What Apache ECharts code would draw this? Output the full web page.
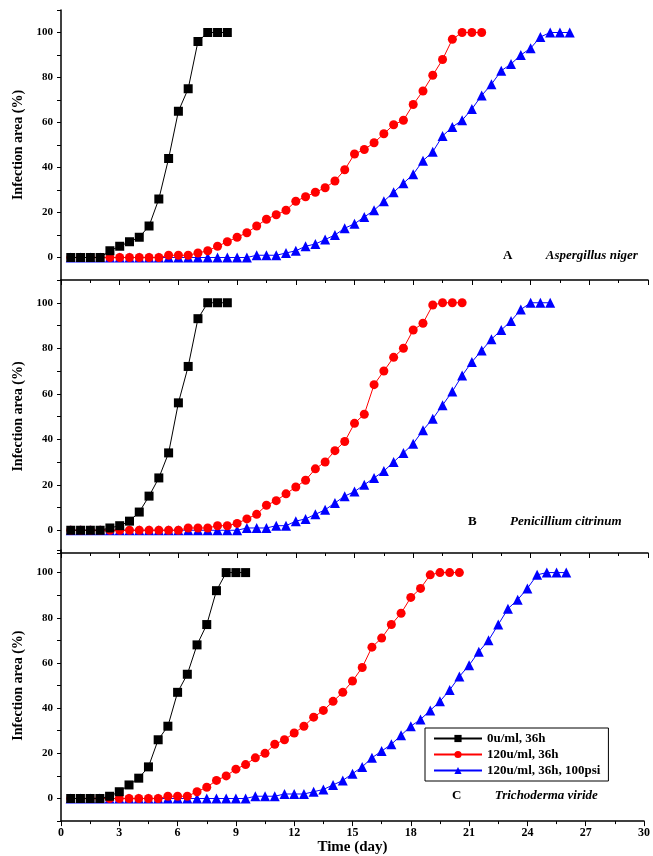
<!DOCTYPE html>
<html>
<head>
<meta charset="utf-8">
<script src="https://cdn.jsdelivr.net/npm/echarts@6/dist/echarts.min.js"></script>
<style>html,body{margin:0;padding:0;background:#fff}#chart{width:653px;height:856px}</style>
</head>
<body>
<div id="chart"></div>
<script>
// values per half day, starting at day 0.5
const panelNames = ['Aspergillus niger', 'Penicillium citrinum', 'Trichoderma viride']
const panelLetters = ['A', 'B', 'C']
const seriesNames = ['0u/ml, 36h', '120u/ml, 36h', '120u/ml, 36h, 100psi']

const aBlack = [0,0,0,0,3,5,7,9,14,26,44,65,75,96,100,100,100]
const aRed = [0,0,0,0,0,0,0,0,0,0,1,1,1,2,3,5,7,9,11,14,17,19,21,25,27,29,31,34,39,46,48,51,55,59,61,68,74,81,88,97,100,100,100]
const aBlue = [0,0,0,0,0,0,0,0,0,0,0,0,0,0,0,0,0,0,0,1,1,1,2,3,5,6,8,10,13,15,18,21,25,29,33,37,43,47,54,58,61,66,72,77,83,86,90,93,98,100,100,100]

const bBlack = [0,0,0,0,1,2,4,8,15,23,34,56,72,93,100,100,100]
const bRed = [0,0,0,0,0,0,0,0,0,0,0,0,1,1,1,2,2,3,5,7,11,13,16,19,22,27,30,35,39,47,51,64,70,76,80,88,91,99,100,100,100]
const bBlue = [0,0,0,0,0,0,0,0,0,0,0,0,0,0,0,0,0,0,1,1,1,2,2,4,5,7,9,12,15,17,20,23,26,30,34,38,44,49,55,61,68,74,79,84,88,92,97,100,100,100]

const cBlack = [0,0,0,0,1,3,6,9,14,26,32,47,55,68,77,92,100,100,100]
const cRed = [0,0,0,0,0,0,0,0,0,0,1,1,1,3,5,8,10,13,15,18,20,24,26,29,32,36,39,43,47,52,58,67,71,77,82,89,93,99,100,100,100]
const cBlue = [0,0,0,0,0,0,0,0,0,0,0,0,0,0,0,0,0,0,0,1,1,1,2,2,2,3,4,6,8,11,14,18,21,24,28,32,35,39,43,48,54,59,65,70,77,84,88,93,99,100,100,100]

const panelData = [[aBlack, aRed, aBlue], [bBlack, bRed, bBlue], [cBlack, cRed, cBlue]]
const colors = ['#000000', '#ff0000', '#0000ff']
const symbols = ['rect', 'circle', 'triangle']

const font = '"Liberation Serif", "Times New Roman", serif'
const grids = [
  { left: 61, right: 5, top: 10, height: 270 },
  { left: 61, right: 5, top: 280, height: 273 },
  { left: 61, right: 5, top: 550, height: 273 }
]

const myChart = echarts.init(document.getElementById('chart'))

const xAxis = grids.map((g, i) => ({
  type: 'value', gridIndex: i, min: 0, max: 30, interval: 3,
  axisLine: { onZero: false, lineStyle: { color: '#000', width: 1.5 } },
  axisTick: { show: true, length: 5, lineStyle: { color: '#000' } },
  minorTick: { show: true, splitNumber: 2, length: 3, lineStyle: { color: '#000' } },
  splitLine: { show: false },
  axisLabel: { show: i === 2, color: '#000', fontFamily: font, fontWeight: 'bold', fontSize: 12, margin: 6 },
  name: i === 2 ? 'Time (day)' : '', nameLocation: 'middle', nameGap: 18,
  nameTextStyle: { color: '#000', fontFamily: font, fontWeight: 'bold', fontSize: 15 }
}))

const yAxis = grids.map((g, i) => ({
  type: 'value', gridIndex: i, min: -10, max: 110, interval: 10,
  axisLine: { show: true, onZero: false, lineStyle: { color: '#000', width: 1.5 } },
  axisTick: { show: true, length: 4, lineStyle: { color: '#000' } },
  splitLine: { show: false },
  axisLabel: {
    color: '#000', fontFamily: font, fontWeight: 'bold', fontSize: 11, margin: 8,
    formatter: v => (v >= 0 && v <= 100 && v % 20 === 0) ? String(v) : ''
  },
  name: 'Infection area (%)', nameLocation: 'middle', nameGap: 36, nameRotate: 90,
  nameTextStyle: { color: '#000', fontFamily: font, fontWeight: 'bold', fontSize: 14 }
}))

const series = []
panelData.forEach((set, p) => {
  set.forEach((vals, k) => {
    series.push({
      name: seriesNames[k], type: 'line', xAxisIndex: p, yAxisIndex: p,
      data: vals.map((v, i) => [0.5 * (i + 1), v]),
      symbol: symbols[k], symbolSize: k === 2 ? 10 : 9,
      itemStyle: { color: colors[k] },
      lineStyle: { color: colors[k], width: 1 },
      z: 3 - k
    })
  })
})

const labelY = [257, 523, 797]
const labelX = [503, 468, 452]
const graphic = labelY.map((y, p) => ({
  type: 'text', left: labelX[p], top: y - 8,
  style: {
    rich: {
      l: { fontFamily: font, fontWeight: 'bold', fontSize: 13, fill: '#000' },
      n: { fontFamily: font, fontWeight: 'bold', fontStyle: 'italic', fontSize: 13, fill: '#000' }
    },
    text: '{l|' + panelLetters[p] + '}          {n|' + panelNames[p] + '}'
  }
}))

myChart.setOption({
  animation: false,
  grid: grids,
  xAxis: xAxis,
  yAxis: yAxis,
  series: series,
  graphic: graphic,
  legend: {
    data: seriesNames, orient: 'vertical', left: 425, top: 728,
    width: 205, padding: [4, 8, 4, 8], itemGap: 3,
    itemWidth: 48, itemHeight: 9,
    borderColor: '#000', borderWidth: 1, backgroundColor: '#fff',
    textStyle: { fontFamily: font, fontWeight: 'bold', fontSize: 13, color: '#000' }
  }
})
</script>
</body>
</html>
